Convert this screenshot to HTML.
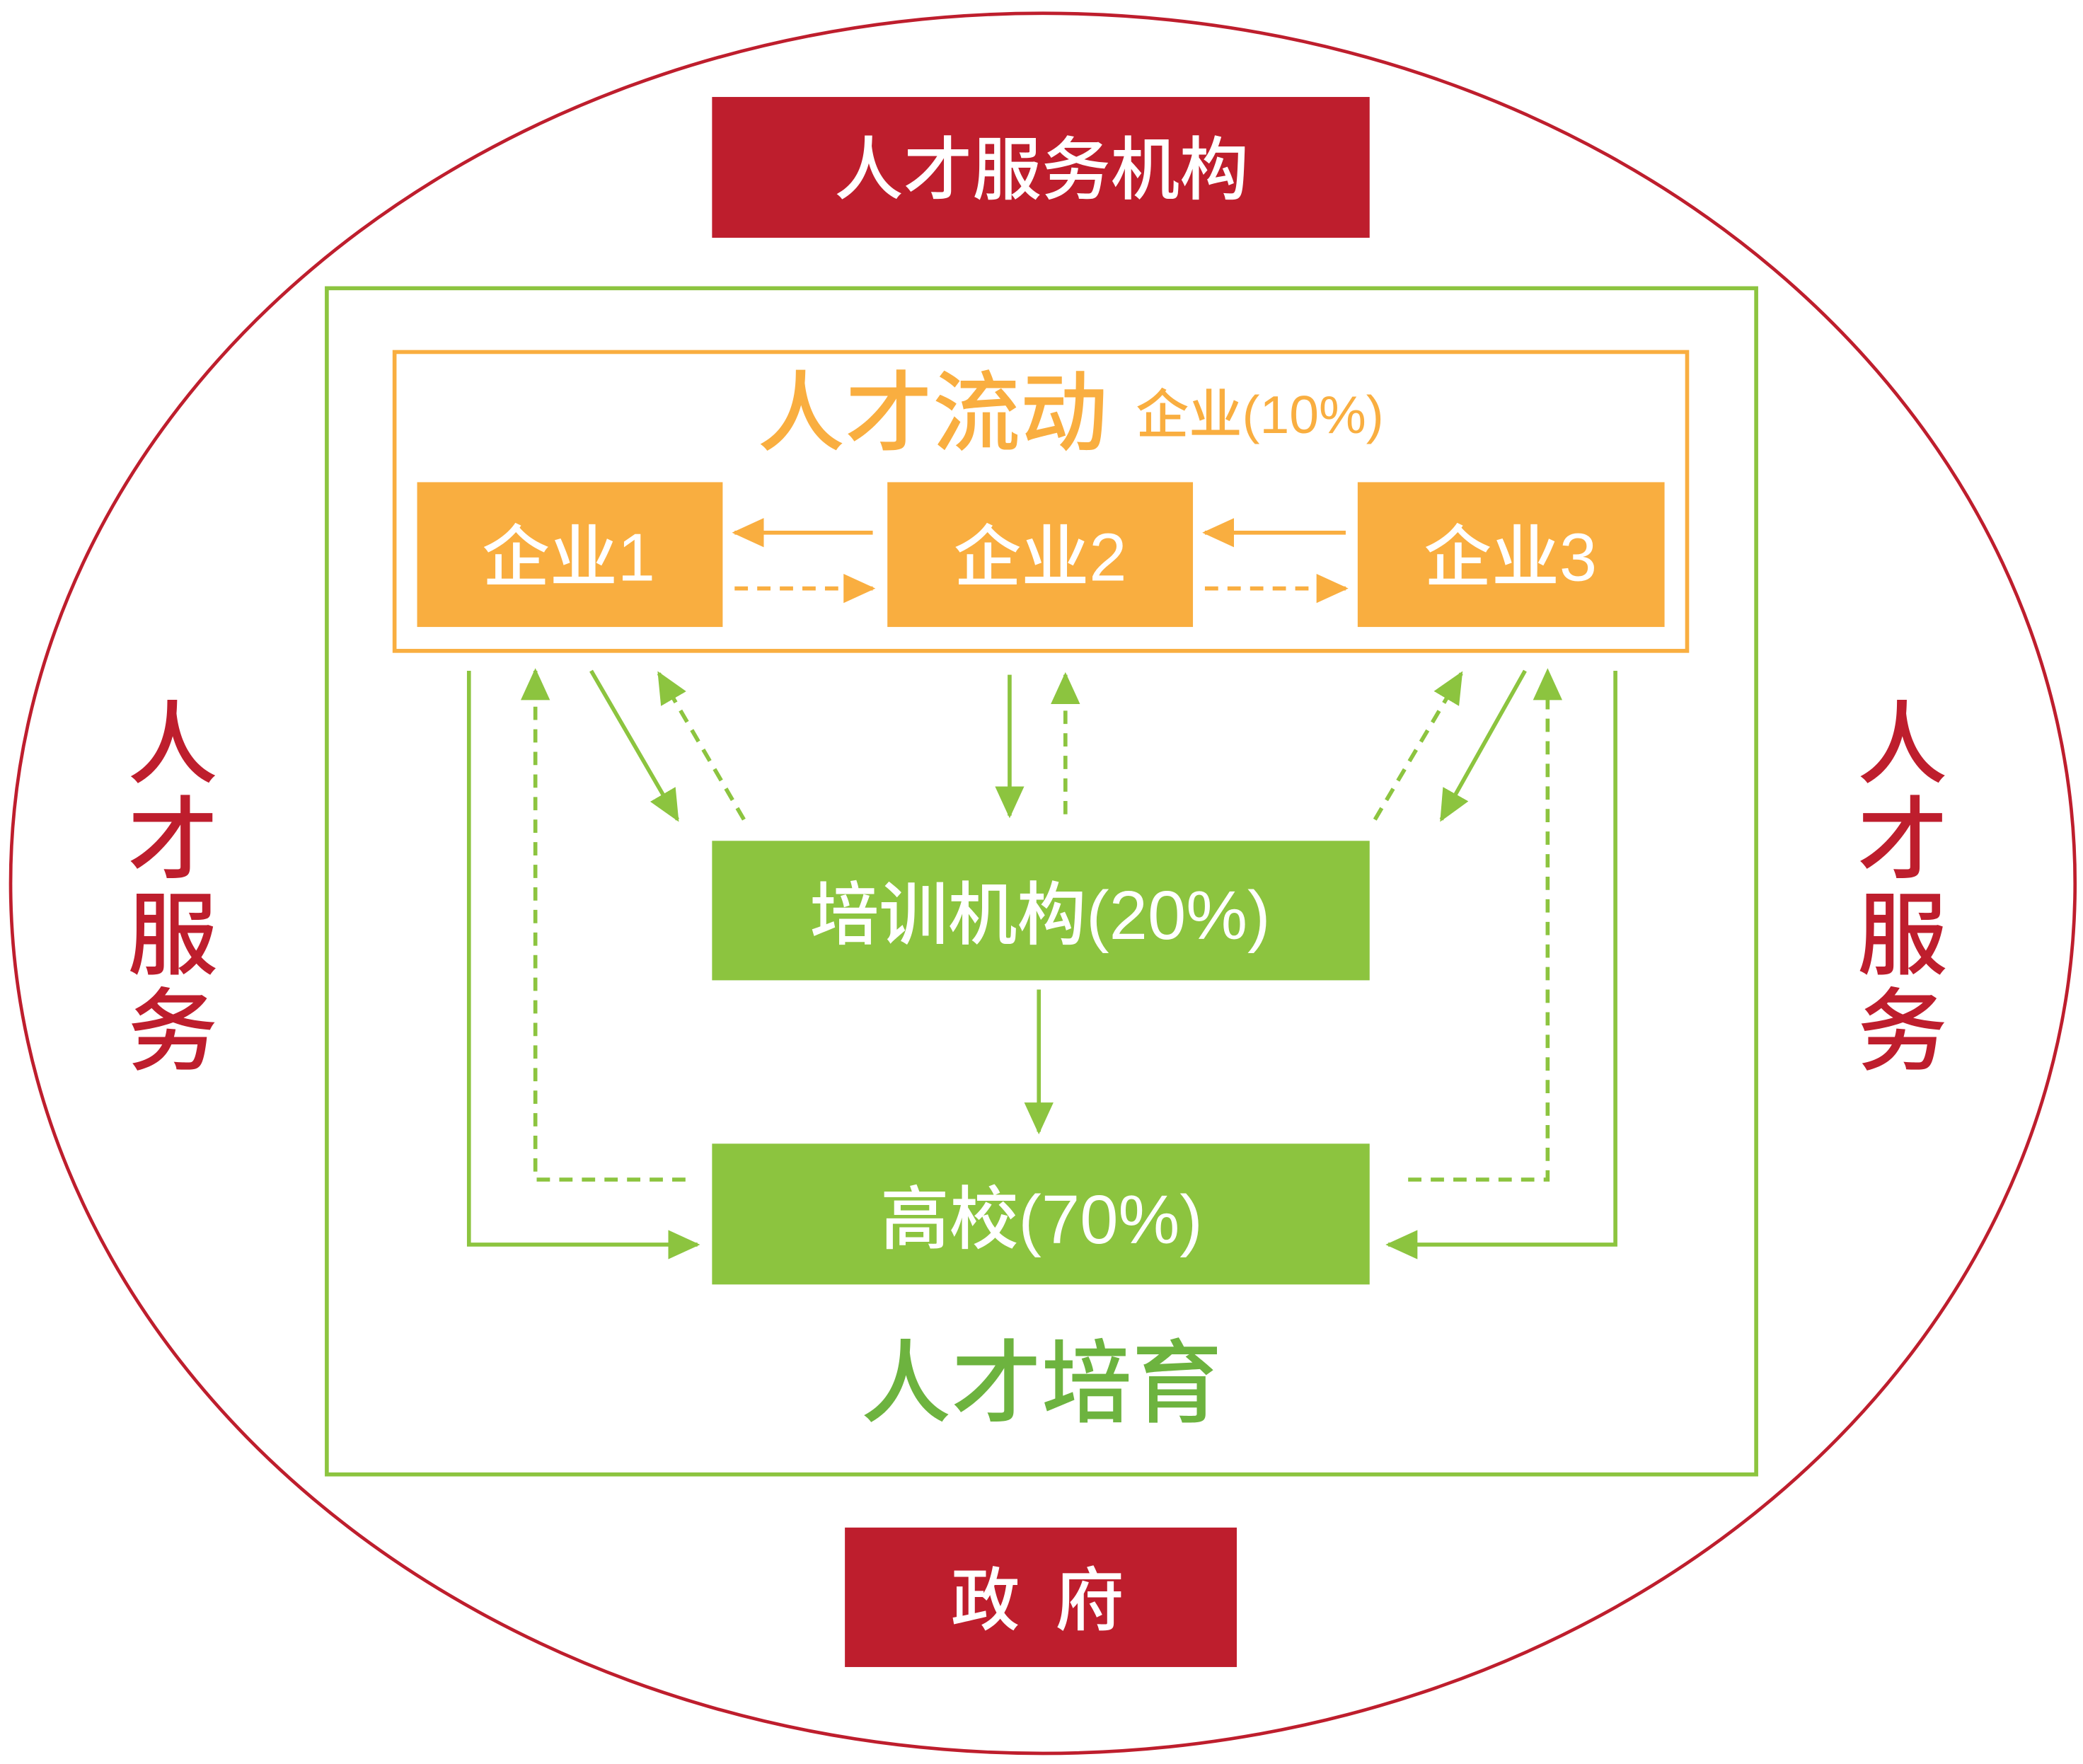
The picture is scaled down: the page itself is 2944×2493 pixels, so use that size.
<!DOCTYPE html>
<html><head><meta charset="utf-8"><style>html,body{margin:0;padding:0;background:#fff}svg{display:block}</style></head>
<body>
<svg width="2944" height="2493" viewBox="0 0 1568 1328" preserveAspectRatio="none" xmlns="http://www.w3.org/2000/svg" font-family="'Liberation Sans','Noto Sans CJK SC',sans-serif" font-weight="500">
<defs>
<marker id="ga" markerWidth="24" markerHeight="24" refX="22" refY="12" orient="auto" markerUnits="userSpaceOnUse" viewBox="0 0 24 24"><path d="M0,1L24,12L0,23z" fill="#8cc43f"/></marker>
<marker id="oa" markerWidth="24" markerHeight="24" refX="22" refY="12" orient="auto" markerUnits="userSpaceOnUse" viewBox="0 0 24 24"><path d="M0,1L24,12L0,23z" fill="#f9ae40"/></marker>
</defs>
<ellipse cx="785" cy="665" rx="777" ry="655" fill="none" stroke="#be1e2d" stroke-width="2.5"/>
<rect x="536" y="73" width="495" height="106" fill="#be1e2d"/>
<text x="784" y="146" font-size="52" fill="#fff" text-anchor="middle">人才服务机构</text>
<rect x="246" y="217" width="1076" height="893" fill="none" stroke="#8cc43f" stroke-width="3"/>
<rect x="297" y="265" width="973" height="225" fill="none" stroke="#f9ae40" stroke-width="3"/>
<text x="570" y="334" font-size="66" fill="#f9ae40">人才流动</text>
<text x="855" y="326" font-size="40" fill="#f9ae40">企业(10%)</text>
<rect x="314" y="363" width="230" height="109" fill="#f9ae40"/>
<rect x="668" y="363" width="230" height="109" fill="#f9ae40"/>
<rect x="1022" y="363" width="231" height="109" fill="#f9ae40"/>
<text x="428" y="437" font-size="51" fill="#fff" text-anchor="middle">企业1</text>
<text x="783" y="437" font-size="51" fill="#fff" text-anchor="middle">企业2</text>
<text x="1137" y="437" font-size="51" fill="#fff" text-anchor="middle">企业3</text>
<g stroke="#f9ae40" stroke-width="3" fill="none">
<line x1="657" y1="401" x2="553" y2="401" marker-end="url(#oa)"/>
<line x1="553" y1="443" x2="657" y2="443" stroke-dasharray="10,7" marker-end="url(#oa)"/>
<line x1="1013" y1="401" x2="907" y2="401" marker-end="url(#oa)"/>
<line x1="907" y1="443" x2="1013" y2="443" stroke-dasharray="10,7" marker-end="url(#oa)"/>
</g>
<rect x="536" y="633" width="495" height="105" fill="#8cc43f"/>
<text x="783" y="707" font-size="52" fill="#fff" text-anchor="middle">培训机构(20%)</text>
<rect x="536" y="861" width="495" height="106" fill="#8cc43f"/>
<text x="784" y="936" font-size="52" fill="#fff" text-anchor="middle">高校(70%)</text>
<g stroke="#8cc43f" stroke-width="3" fill="none">
<line x1="782" y1="745" x2="782" y2="852" marker-end="url(#ga)"/>
<line x1="760" y1="508" x2="760" y2="614" marker-end="url(#ga)"/>
<line x1="802" y1="613" x2="802" y2="508" stroke-dasharray="10,7" marker-end="url(#ga)"/>
<polyline points="353,505 353,937 525,937" marker-end="url(#ga)"/>
<polyline points="516,888 403,888 403,505" stroke-dasharray="10,7" marker-end="url(#ga)"/>
<line x1="445" y1="505" x2="510" y2="617" marker-end="url(#ga)"/>
<line x1="560" y1="617" x2="496" y2="507" stroke-dasharray="10,7" marker-end="url(#ga)"/>
<line x1="1148" y1="505" x2="1085" y2="617" marker-end="url(#ga)"/>
<line x1="1035" y1="617" x2="1100" y2="507" stroke-dasharray="10,7" marker-end="url(#ga)"/>
<polyline points="1216,505 1216,937 1045,937" marker-end="url(#ga)"/>
<polyline points="1060,888 1165,888 1165,505" stroke-dasharray="10,7" marker-end="url(#ga)"/>
</g>
<text x="784" y="1065" font-size="68" fill="#6db33f" text-anchor="middle">人才培育</text>
<rect x="636" y="1150" width="295" height="105" fill="#be1e2d"/>
<text x="784" y="1223" font-size="52" fill="#fff" text-anchor="middle" letter-spacing="6">政 府</text>
<g font-size="68" fill="#be1e2d" text-anchor="middle">
<text x="130" y="584">人</text><text x="130" y="656">才</text><text x="130" y="728">服</text><text x="130" y="800">务</text>
<text x="1432" y="584">人</text><text x="1432" y="656">才</text><text x="1432" y="728">服</text><text x="1432" y="800">务</text>
</g>
</svg>
</body></html>
